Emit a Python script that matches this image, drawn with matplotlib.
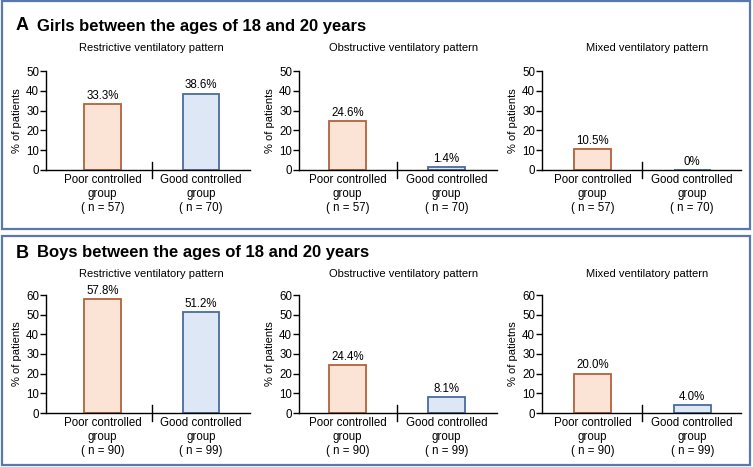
import matplotlib.pyplot as plt
from matplotlib.patches import Rectangle

plt.rcParams["font.family"] = ["Liberation Sans", "DejaVu Sans"]

W, H = 753, 467

patterns = ["Restrictive ventilatory pattern",
            "Obstructive ventilatory pattern",
            "Mixed ventilatory pattern"]
groups = ["Poor controlled\ngroup", "Good controlled\ngroup"]

girls_n = [57, 70]
girls_pct = [[33.3, 38.6], [24.6, 1.4], [10.5, 0.0]]
girls_lbl = [["33.3%", "38.6%"], ["24.6%", "1.4%"], ["10.5%", "0%"]]

boys_n = [90, 99]
boys_pct = [[57.8, 51.2], [24.4, 8.1], [20.0, 4.0]]
boys_lbl = [["57.8%", "51.2%"], ["24.4%", "8.1%"], ["20.0%", "4.0%"]]

ylabels_girls = ["% of patients"] * 3
ylabels_boys = ["% of patients", "% of patients", "% of patietns"]

fill_cols = ["#FBE3D6", "#DDE7F5"]
edge_cols = ["#B0623A", "#4A6B9C"]
frame_col = "#5A78B0"

# axes placement in pixels: (left, right) and x-limits per column
ax_cols = [(46, 250), (299, 497), (542, 741)]
ax_xlims = [(-0.574, 1.497), (-0.49, 1.51), (-0.508, 1.49)]


def px_box(x0, y0, x1, y1):
    # pixel box (top-left origin) -> figure fraction rect
    return [x0 / W, 1 - y1 / H, (x1 - x0) / W, (y1 - y0) / H]


fig = plt.figure(figsize=(W / 100, H / 100), dpi=100)

# outer frames
for (y0, y1) in [(1, 229), (236, 465)]:
    fig.patches.append(Rectangle((1.5 / W, 1 - y1 / H), 748.5 / W, (y1 - y0) / H,
                                 transform=fig.transFigure, fill=False,
                                 edgecolor=frame_col, linewidth=1.6))


def draw_panel(letter, title, y_top, y_bot, ymax, pct, lbl, n, ylabels, title_y, sub_y):
    fig.text(16 / W, 1 - title_y / H, letter, fontsize=13, fontweight="bold",
             va="center", ha="left")
    fig.text(37 / W, 1 - title_y / H, title, fontsize=12, fontweight="bold",
             va="center", ha="left")
    for i in range(3):
        x0, x1 = ax_cols[i]
        ax = fig.add_axes(px_box(x0, y_top, x1, y_bot))
        x = [0, 1]
        ax.bar(x, pct[i], width=0.372, color=fill_cols, edgecolor=edge_cols,
               linewidth=1.3, zorder=2)
        for xi, v, t in zip(x, pct[i], lbl[i]):
            ax.text(xi, v + 1.2, t, ha="center", va="bottom", fontsize=8.3)
        ax.set_xlim(*ax_xlims[i])
        ax.set_ylim(0, ymax)
        ax.set_yticks(range(0, ymax + 1, 10))
        ax.set_xticks(x)
        ax.set_xticklabels([f"{g}\n( n = {k})" for g, k in zip(groups, n)],
                           fontsize=8.3, linespacing=1.22)
        ax.tick_params(axis="x", length=0, pad=3)
        ax.tick_params(axis="y", length=4, width=1, pad=1, labelsize=8.3)
        for s in ["top", "right"]:
            ax.spines[s].set_visible(False)
        for s in ["left", "bottom"]:
            ax.spines[s].set_linewidth(1)
        ax.plot([0.5, 0.5], [-4, 4], color="black", linewidth=1, clip_on=False)
        ax.set_ylabel(ylabels[i], fontsize=8, labelpad=3)
        ax.patch.set_alpha(0)
        fig.text((x0 + 105) / W, 1 - sub_y / H, patterns[i], fontsize=8,
                 ha="center", va="center")


draw_panel("A", "Girls between the ages of 18 and 20 years", 71, 170, 50,
           girls_pct, girls_lbl, girls_n, ylabels_girls, 26, 48)
draw_panel("B", "Boys between the ages of 18 and 20 years", 295, 413, 60,
           boys_pct, boys_lbl, boys_n, ylabels_boys, 253, 274)

fig.savefig("out.png", dpi=100)
